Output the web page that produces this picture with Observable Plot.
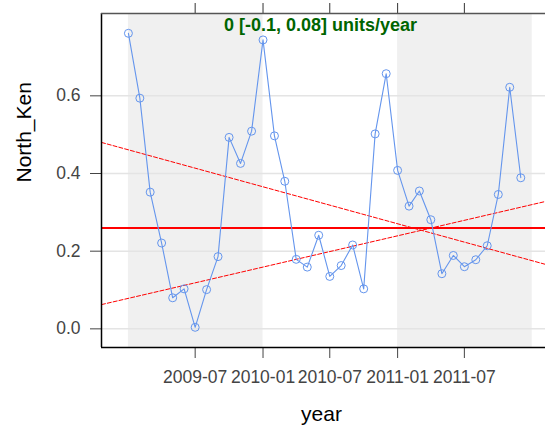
<!DOCTYPE html>
<html>
<head>
<meta charset="utf-8">
<script src="https://cdn.jsdelivr.net/npm/d3@7"></script>
<script src="https://cdn.jsdelivr.net/npm/@observablehq/plot@0.6"></script>
<style>
  html, body { margin: 0; padding: 0; background: #fff; overflow: hidden; }
  svg { display: block; }
</style>
</head>
<body>
<div id="chart"></div>
<script>
// ---- data ----
const months = [
  "2009-01","2009-02","2009-03","2009-04","2009-05","2009-06",
  "2009-07","2009-08","2009-09","2009-10","2009-11","2009-12",
  "2010-01","2010-02","2010-03","2010-04","2010-05","2010-06",
  "2010-07","2010-08","2010-09","2010-10","2010-11","2010-12",
  "2011-01","2011-02","2011-03","2011-04","2011-05","2011-06",
  "2011-07","2011-08","2011-09","2011-10","2011-11","2011-12"
];
const northKen = [
  0.761, 0.594, 0.352, 0.221, 0.080, 0.103,
  0.004, 0.101, 0.186, 0.493, 0.426, 0.509,
  0.744, 0.497, 0.380, 0.179, 0.159, 0.241,
  0.135, 0.163, 0.216, 0.103, 0.502, 0.657,
  0.408, 0.316, 0.355, 0.281, 0.142, 0.189,
  0.160, 0.178, 0.214, 0.346, 0.622, 0.389
];
const shadeStarts = ["2009-01-01", "2011-01-01"];
const shadeEnds   = ["2010-01-01", "2012-01-01"];
const trendValue = 0.26;
const ciDates = ["2008-10-20", "2012-02-06"];
const ciLower = [0.480, 0.166];   // slope -0.1 units/year
const ciUpper = [0.0625, 0.328];  // slope 0.08 units/year
const xTickLabels = ["2009-07","2010-01","2010-07","2011-01","2011-07"];
const yTicks = [0.0, 0.2, 0.4, 0.6];
const titleText = "0 [-0.1, 0.08] units/year";
const xLabel = "year";
const yLabel = "North_Ken";

// ---- derived tables ----
const parseM = d3.utcParse("%Y-%m");
const parseD = d3.utcParse("%Y-%m-%d");
const series = months.map((m, i) => ({date: parseM(m), value: northKen[i]}));
const bands = shadeStarts.map((s, i) => ({start: parseD(s), end: parseD(shadeEnds[i])}));
const ciLowerData = ciDates.map((d, i) => ({date: parseD(d), value: ciLower[i]}));
const ciUpperData = ciDates.map((d, i) => ({date: parseD(d), value: ciUpper[i]}));
const xTicks = xTickLabels.map(parseM);
const xDomain = [parseD("2008-10-20"), parseD("2012-02-06")];
const yDomain = [-0.048, 0.812];

const plot = Plot.plot({
  width: 545,
  height: 426,
  marginLeft: 101,
  marginRight: 0,
  marginTop: 13,
  marginBottom: 79,
  style: {fontFamily: "'Liberation Sans', Arial, sans-serif", fontSize: "17.5px", background: "#fff"},
  x: {type: "utc", domain: xDomain, label: null},
  y: {domain: yDomain, label: null},
  marks: [
    Plot.rect(bands, {x1: "start", x2: "end", fill: "#f0f0f0"}),
    Plot.ruleY(yTicks, {stroke: "#e4e4e4", strokeWidth: 1.5}),
    Plot.line(ciLowerData, {x: "date", y: "value", stroke: "#ff0000", strokeWidth: 1, strokeDasharray: "4,2"}),
    Plot.line(ciUpperData, {x: "date", y: "value", stroke: "#ff0000", strokeWidth: 1, strokeDasharray: "4,2"}),
    Plot.ruleY([trendValue], {stroke: "#ff0000", strokeWidth: 2}),
    Plot.line(series, {x: "date", y: "value", stroke: "#6495ED", strokeWidth: 1.1}),
    Plot.dot(series, {x: "date", y: "value", r: 4, stroke: "#6495ED", fill: "none", strokeWidth: 1}),
    Plot.axisY(yTicks, {tickSize: 11, tickPadding: 10, tickFormat: d3.format(".1f"), color: "#444", label: null}),
    Plot.axisX(xTicks, {anchor: "bottom", tickSize: 11, tickPadding: 12, tickFormat: d3.utcFormat("%Y-%m"), color: "#444", label: null}),
    Plot.axisX(xTicks, {anchor: "top", tickSize: 11, tickFormat: () => "", color: "#333", label: null}),
    Plot.ruleX([xDomain[0]], {stroke: "#000", strokeWidth: 1.5}),
    Plot.ruleY([yDomain[0]], {stroke: "#000", strokeWidth: 1.5}),
    Plot.ruleY([yDomain[1]], {stroke: "#555", strokeWidth: 1.5}),
    Plot.text([titleText], {frameAnchor: "top", dx: -3, dy: 12, lineAnchor: "middle", fill: "#006400", fontWeight: "bold", fontSize: 18}),
    Plot.text([yLabel], {frameAnchor: "left", dx: -77, dy: 2, rotate: -90, lineAnchor: "middle", fill: "#000", fontSize: 21}),
    Plot.text([xLabel], {frameAnchor: "bottom", dx: -2, dy: 67, lineAnchor: "middle", fill: "#000", fontSize: 21})
  ]
});
document.getElementById("chart").appendChild(plot);
</script>
</body>
</html>
